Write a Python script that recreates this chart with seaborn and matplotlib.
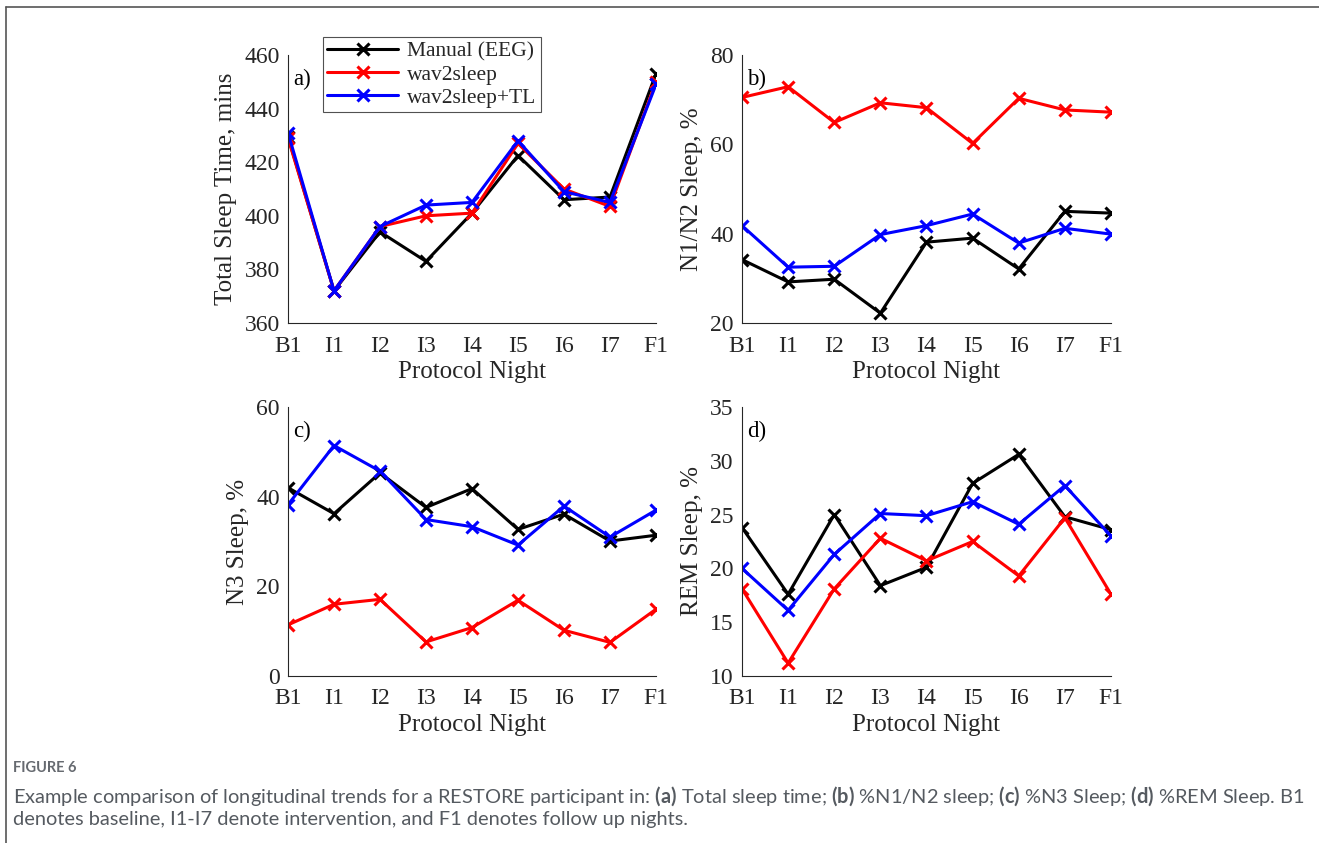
import matplotlib
matplotlib.use('Agg')
import matplotlib.pyplot as plt
import seaborn as sns
import pandas as pd

nights = ['B1', 'I1', 'I2', 'I3', 'I4', 'I5', 'I6', 'I7', 'F1']
methods = ['Manual (EEG)', 'wav2sleep', 'wav2sleep+TL']

# a) total sleep time, mins
tst_manual = [429.5, 372, 394, 383, 401, 422.5, 406, 407, 453]
tst_w2s = [429, 372, 396, 400, 401, 427, 410, 403.5, 450]
tst_tl = [431, 372, 396, 404, 405, 428, 409, 405, 449]

# b) N1/N2 sleep, %
n12_manual = [34.2, 29.2, 29.8, 22.2, 38.1, 39.0, 32.1, 45.0, 44.6]
n12_w2s = [70.5, 72.9, 64.9, 69.3, 68.2, 60.2, 70.3, 67.7, 67.2]
n12_tl = [41.8, 32.5, 32.7, 39.8, 41.8, 44.4, 37.9, 41.2, 39.9]

# c) N3 sleep, %
n3_manual = [42.0, 36.2, 45.3, 37.6, 41.8, 32.7, 36.1, 30.1, 31.4]
n3_w2s = [11.4, 16.0, 17.1, 7.6, 10.8, 16.9, 10.2, 7.5, 14.9]
n3_tl = [38.2, 51.4, 45.7, 34.9, 33.3, 29.2, 37.9, 31.0, 37.0]

# d) REM sleep, %
rem_manual = [23.8, 17.6, 25.0, 18.4, 20.1, 27.9, 30.6, 24.8, 23.6]
rem_w2s = [18.1, 11.2, 18.1, 22.8, 20.7, 22.5, 19.3, 24.7, 17.6]
rem_tl = [20.0, 16.1, 21.3, 25.1, 24.9, 26.2, 24.1, 27.7, 23.0]

panels = [
    ('a)', 'Total Sleep Time, mins', (360, 460), [360, 380, 400, 420, 440, 460], [tst_manual, tst_w2s, tst_tl]),
    ('b)', 'N1/N2 Sleep, %', (20, 80), [20, 40, 60, 80], [n12_manual, n12_w2s, n12_tl]),
    ('c)', 'N3 Sleep, %', (0, 60), [0, 20, 40, 60], [n3_manual, n3_w2s, n3_tl]),
    ('d)', 'REM Sleep, %', (10, 35), [10, 15, 20, 25, 30, 35], [rem_manual, rem_w2s, rem_tl]),
]
colors = ['#000000', '#ff0000', '#0000ff']

sns.set_style('white')
plt.rcParams['font.family'] = ['Liberation Serif', 'DejaVu Serif']
plt.rcParams['mathtext.fontset'] = 'custom'
plt.rcParams['mathtext.rm'] = 'Lato'
plt.rcParams['mathtext.bf'] = 'Lato:bold'

fig = plt.figure(figsize=(13.19, 8.43), dpi=100)
W, H = 1319, 843
# axes boxes in pixels: left, top, right, bottom
boxes = [(288, 55, 656, 323), (742, 55, 1111, 323), (288, 407, 656, 676), (742, 407, 1111, 676)]

for (lab, ylab, ylim, yticks, series), (l, t, r, b) in zip(panels, boxes):
    ax = fig.add_axes([l / W, 1 - b / H, (r - l) / W, (b - t) / H])
    for name, vals, c in zip(methods, series, colors):
        df = pd.DataFrame({'night': nights, 'value': vals})
        sns.lineplot(data=df, x='night', y='value', ax=ax, color=c, lw=2.2,
                     marker='x', markersize=9, markeredgewidth=2.2,
                     markeredgecolor=c, label=name, legend=False)
    ax.set_xlim(0, len(nights) - 1)
    ax.set_ylim(*ylim)
    ax.set_yticks(yticks)
    ax.set_xlabel('Protocol Night', fontsize=18, color='#262626', labelpad=3)
    ax.set_ylabel(ylab, fontsize=18, color='#262626', labelpad=5)
    ax.tick_params(direction='in', length=4, width=0.8, labelsize=17,
                   colors='#262626')
    ax.tick_params(axis='x', pad=9)
    ax.tick_params(axis='y', pad=6)
    for s in ['top', 'right']:
        ax.spines[s].set_visible(False)
    for s in ['left', 'bottom']:
        ax.spines[s].set_color('#262626')
        ax.spines[s].set_linewidth(0.8)
    ax.text(0.014, 0.95, lab, transform=ax.transAxes, fontsize=16.5,
            va='top', ha='left', color='#000000')
    if lab == 'a)':
        leg = ax.legend(loc='upper left', bbox_to_anchor=(323 / W, 1 - 37 / H),
                        bbox_transform=fig.transFigure, fontsize=15.5, frameon=True,
                        fancybox=False, edgecolor='#262626', handlelength=3.3,
                        borderpad=0.2, labelspacing=0.15, handletextpad=0.4,
                        borderaxespad=0)
        leg.get_frame().set_linewidth(0.8)

# page frame
fig.add_artist(plt.Line2D([6 / W, 1], [1 - 7 / H, 1 - 7 / H], color='#555555', lw=1.2,
                          transform=fig.transFigure))
fig.add_artist(plt.Line2D([6 / W, 6 / W], [1 - 7 / H, 0], color='#555555', lw=1.2,
                          transform=fig.transFigure))

# caption
cap_color = '#555a60'
fig.text(13 / W, 1 - 768 / H, 'FIGURE 6', fontsize=10.5, family='Lato', weight='bold',
         color='#666a70', va='center')
line1 = (r'Example comparison of longitudinal trends for a RESTORE participant in: $\bf{(a)}$ Total sleep time; '
         r'$\bf{(b)}$ %N1/N2 sleep; $\bf{(c)}$ %N3 Sleep; $\bf{(d)}$ %REM Sleep. B1')
fig.text(13 / W, 1 - 796 / H, line1, fontsize=14.4, family='Lato', color=cap_color, va='center')
fig.text(13 / W, 1 - 819 / H, 'denotes baseline, I1-I7 denote intervention, and F1 denotes follow up nights.',
         fontsize=14.4, family='Lato', color=cap_color, va='center')

fig.savefig('out.png', dpi=100)
